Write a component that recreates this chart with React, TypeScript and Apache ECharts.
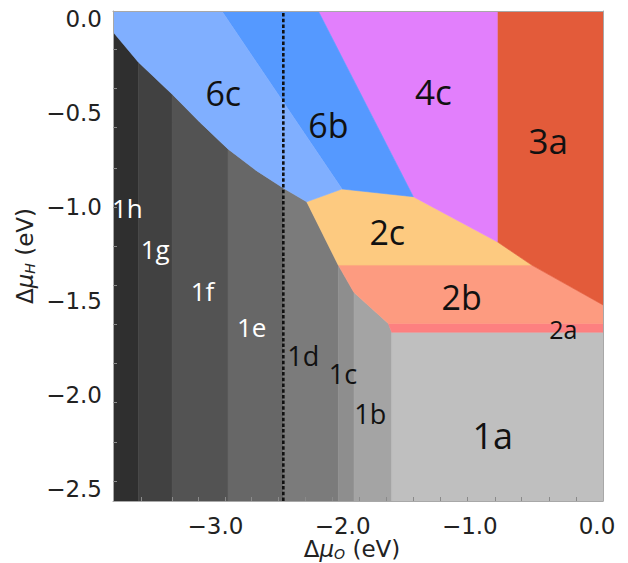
import React, { useEffect, useRef } from 'react';
import * as echarts from 'echarts';

// Axis extents (eV)
const X_MIN = -3.805;
const X_MAX = 0.047;
const Y_MIN = -2.564;
const Y_MAX = 0.043;

// Tick labels
const X_TICK_LABELS = [-3, -2, -1, 0];
const Y_TICK_LABELS = [0, -0.5, -1, -1.5, -2, -2.5];
// Minor tick marks
const X_MINOR_TICKS = [-3.579, -3.341, -3.131, -2.926, -2.715, -2.504, -2.292, -2.081, -1.869, -1.653, -1.444, -1.234, -1.017, -0.802, -0.592, -0.375, -0.16];
const Y_MINOR_TICKS = [-0.161, -0.369, -0.578, -0.791, -1.0, -1.207, -1.415, -1.622, -1.831, -2.041, -2.254, -2.461];

// Phase regions
const REGION_NAMES = ['1h', '1g', '1f', '1e', '1d', '1c', '1b', '1a', '2a', '2b', '2c', '3a', '4c', '6b', '6c'];
const REGION_COLORS = [
  '#2f2f2f', '#414141', '#535353', '#676767', '#7b7b7b', '#8e8e8e', '#a4a4a4', '#bfbfbf',
  '#fd8080', '#fd9b80', '#fdca80', '#e35b3a', '#e27ffc', '#5599ff', '#80afff',
];
// polygon vertices [ΔμO, ΔμH]
const POLY_1H = [[X_MIN, -0.068], [-3.606, -0.229], [-3.606, Y_MIN], [X_MIN, Y_MIN]];
const POLY_1G = [[-3.606, -0.229], [-3.341, -0.399], [-3.341, Y_MIN], [-3.606, Y_MIN]];
const POLY_1F = [[-3.341, -0.399], [-3.12, -0.55], [-2.901, -0.691], [-2.901, Y_MIN], [-3.341, Y_MIN]];
const POLY_1E = [[-2.901, -0.691], [-2.68, -0.805], [-2.466, -0.899], [-2.466, Y_MIN], [-2.901, Y_MIN]];
const POLY_1D = [[-2.466, -0.899], [-2.282, -0.972], [-2.034, -1.309], [-2.034, Y_MIN], [-2.466, Y_MIN]];
const POLY_1C = [[-2.034, -1.309], [-1.91, -1.455], [-1.91, Y_MIN], [-2.034, Y_MIN]];
const POLY_1B = [[-1.91, -1.455], [-1.641, -1.619], [-1.614, -1.666], [-1.614, Y_MIN], [-1.91, Y_MIN]];
const POLY_1A = [[-1.614, -1.666], [X_MAX, -1.666], [X_MAX, Y_MIN], [-1.614, Y_MIN]];
const POLY_2A = [[-1.641, -1.619], [X_MAX, -1.619], [X_MAX, -1.666], [-1.614, -1.666]];
const POLY_2B = [[-2.034, -1.309], [-0.513, -1.309], [X_MAX, -1.521], [X_MAX, -1.619], [-1.641, -1.619], [-1.91, -1.455]];
const POLY_2C = [[-2.282, -0.972], [-2.005, -0.904], [-1.444, -0.945], [-0.784, -1.185], [-0.513, -1.309], [-2.034, -1.309]];
const POLY_3A = [[-0.784, Y_MAX], [X_MAX, Y_MAX], [X_MAX, -1.521], [-0.513, -1.309], [-0.784, -1.185]];
const POLY_4C = [[-2.191, Y_MAX], [-0.784, Y_MAX], [-0.784, -1.185], [-1.444, -0.945]];
const POLY_6B = [[-2.95, Y_MAX], [-2.191, Y_MAX], [-1.444, -0.945], [-2.005, -0.904]];
const POLY_6C = [[X_MIN, Y_MAX], [-2.95, Y_MAX], [-2.005, -0.904], [-2.282, -0.972], [-2.466, -0.899], [-2.68, -0.805], [-2.901, -0.691], [-3.12, -0.55], [-3.341, -0.399], [-3.606, -0.229], [X_MIN, -0.068]];
const REGION_POLYGONS = [POLY_1H, POLY_1G, POLY_1F, POLY_1E, POLY_1D, POLY_1C, POLY_1B, POLY_1A, POLY_2A, POLY_2B, POLY_2C, POLY_3A, POLY_4C, POLY_6B, POLY_6C];

// Label anchor positions [ΔμO, ΔμH]
const LABEL_POS = [
  [-3.692, -1.004], [-3.473, -1.223], [-3.101, -1.447], [-2.715, -1.637], [-2.31, -1.792],
  [-1.997, -1.886], [-1.783, -2.101], [-0.82, -2.213], [-0.265, -1.65], [-1.064, -1.477],
  [-1.649, -1.131], [-0.383, -0.644], [-1.287, -0.387], [-2.112, -0.564], [-2.938, -0.395],
];

// Dashed reference line position
const DASHED_X = -2.466;

const LABEL_SIZES = [26, 26, 26, 26, 27, 27, 27, 36, 25, 34, 34, 35, 35, 34, 34];
const LABEL_COLORS = ['#fff', '#fff', '#fff', '#fff', '#111', '#111', '#111', '#111', '#111', '#111', '#111', '#111', '#111', '#111', '#111'];

const fmt = (v: number) => {
  const s = Math.abs(v).toFixed(1);
  return v < -1e-9 ? '\u2212' + s : s;
};

const nameRich = {
  a: { fontFamily: 'DejaVu Sans', fontSize: 23, color: '#222', lineHeight: 24 },
  mu: { fontFamily: 'DejaVu Sans', fontStyle: 'italic', fontSize: 23, color: '#222', lineHeight: 24 },
  sub: { fontFamily: 'DejaVu Sans', fontStyle: 'italic', fontSize: 14, color: '#222', lineHeight: 13, verticalAlign: 'bottom' },
};

export default function App() {
  const ref = useRef<HTMLDivElement>(null);
  useEffect(() => {
    if (!ref.current) return;
    const chart = echarts.init(ref.current, null, { renderer: 'svg' });
    const frame = { show: true, onZero: false, lineStyle: { color: '#a8a8a8', width: 1 } };
    chart.setOption({
      animation: false,
      backgroundColor: '#fff',
      grid: { left: 113, right: 25, top: 11, bottom: 62, containLabel: false, outerBoundsMode: 'none' },
      xAxis: [
        {
          type: 'value', min: X_MIN, max: X_MAX, position: 'bottom', z: 10,
          axisLine: frame,
          axisTick: { show: true, inside: true, length: 4, customValues: X_MINOR_TICKS, lineStyle: { color: '#8a8a8a' } },
          axisLabel: { customValues: X_TICK_LABELS, formatter: fmt, fontFamily: 'DejaVu Sans', fontSize: 23, color: '#222', margin: 13 },
          splitLine: { show: false },
          name: '{a|\u0394}{mu|\u03bc}{sub|O}{a| (eV)}',
          nameLocation: 'middle', nameGap: 36, nameMoveOverlap: false,
          nameTextStyle: { rich: nameRich, padding: [0, 12, 0, 0] },
        },
        {
          type: 'value', min: X_MIN, max: X_MAX, position: 'top', z: 10,
          axisLine: frame, axisTick: { show: false }, axisLabel: { show: false }, splitLine: { show: false },
        },
      ],
      yAxis: [
        {
          type: 'value', min: Y_MIN, max: Y_MAX, position: 'left', z: 10,
          axisLine: frame,
          axisTick: { show: true, inside: true, length: 4, customValues: Y_MINOR_TICKS, lineStyle: { color: '#8a8a8a' } },
          axisLabel: { customValues: Y_TICK_LABELS, formatter: fmt, fontFamily: 'DejaVu Sans', fontSize: 23, color: '#222', margin: 11 },
          splitLine: { show: false },
          name: '{a|\u0394}{mu|\u03bc}{sub|H}{a| (eV)}',
          nameLocation: 'middle', nameGap: 76, nameRotate: 90, nameMoveOverlap: false,
          nameTextStyle: { rich: nameRich },
        },
        {
          type: 'value', min: Y_MIN, max: Y_MAX, position: 'right', z: 10,
          axisLine: frame, axisTick: { show: false }, axisLabel: { show: false }, splitLine: { show: false },
        },
      ],
      series: [
        {
          type: 'custom',
          xAxisIndex: 0, yAxisIndex: 0,
          clip: true,
          z: 2,
          data: REGION_NAMES.map((n, i) => [LABEL_POS[i][0], LABEL_POS[i][1], i]),
          renderItem: (params: any, api: any) => {
            const i = params.dataIndex;
            const pts = REGION_POLYGONS[i].map((p) => api.coord(p));
            return {
              type: 'polygon',
              shape: { points: pts },
              style: { fill: REGION_COLORS[i], stroke: REGION_COLORS[i], lineWidth: 0.6 },
            };
          },
        },
        {
          type: 'line',
          xAxisIndex: 0, yAxisIndex: 0,
          z: 5,
          symbol: 'none',
          data: [[DASHED_X, Y_MIN], [DASHED_X, Y_MAX]],
          lineStyle: { color: '#111', width: 2.6, type: [3.5, 2.2] },
        },
        {
          type: 'custom',
          xAxisIndex: 0, yAxisIndex: 0,
          z: 6,
          data: REGION_NAMES.map((n, i) => [LABEL_POS[i][0], LABEL_POS[i][1], i]),
          renderItem: (params: any, api: any) => {
            const i = params.dataIndex;
            const c = api.coord(LABEL_POS[i]);
            return {
              type: 'text',
              x: c[0], y: c[1],
              style: {
                text: REGION_NAMES[i],
                fill: LABEL_COLORS[i],
                fontSize: LABEL_SIZES[i],
                fontFamily: 'Open Sans',
                align: 'center',
                verticalAlign: 'middle',
              },
            };
          },
        },
      ],
    });
    return () => chart.dispose();
  }, []);
  return <div ref={ref} style={{ position: 'fixed', left: 0, top: 0, width: 628, height: 563 }} />;
}
